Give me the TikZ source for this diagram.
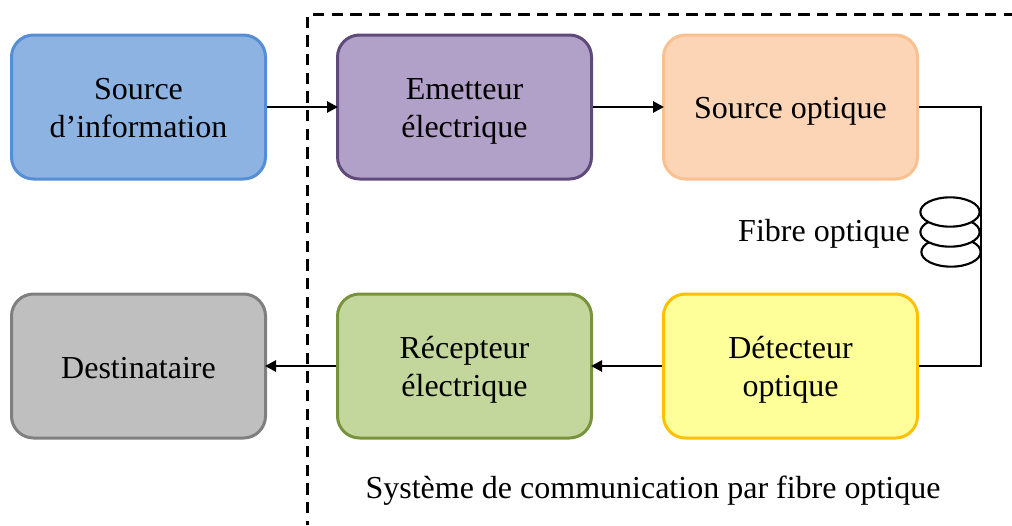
\documentclass[tikz,border=0pt]{standalone}
\usepackage{fontspec}
\setmainfont{Liberation Serif}
\usetikzlibrary{positioning}
\usetikzlibrary{arrows.meta}
\usetikzlibrary{shapes.geometric}
\tikzset{tips=proper}
\tikzset{%
    block/.style={rectangle, draw, rounded corners=16.5pt, line width=2.25pt, minimum width=190.5pt, minimum height=108pt, inner sep=0pt, align=center, font=\fontsize{24pt}{28.5pt}\selectfont, execute at begin node={\rule{0pt}{23pt}}, execute at end node={\rule[-5pt]{0pt}{5pt}}},
    tall/.style={execute at begin node={\rule{0pt}{51pt}}},
    link/.style={draw, line width=2pt, shorten >=-1.5pt, -{Triangle[length=8.25pt, width=8.25pt]}},
    fibre/.style={draw, line width=1.5pt},
    coil/.style={ellipse, draw, fill=white, line width=1.6pt, minimum width=44.5pt, minimum height=22pt, inner sep=0pt},
    frame/.style={draw, line width=2.25pt, dash pattern=on 8.5pt off 5.5pt},
    legend/.style={inner sep=0pt, font=\fontsize{24pt}{28.5pt}\selectfont}
}
\definecolor{srcfill}{HTML}{8DB3E2}
\definecolor{srcline}{HTML}{558ED5}
\definecolor{emifill}{HTML}{B1A0C7}
\definecolor{emiline}{HTML}{604A7B}
\definecolor{optfill}{HTML}{FBD5B5}
\definecolor{optline}{HTML}{FAC090}
\definecolor{detfill}{HTML}{FFFF99}
\definecolor{detline}{HTML}{FFC000}
\definecolor{recfill}{HTML}{C3D69B}
\definecolor{recline}{HTML}{77933C}
\definecolor{dstfill}{HTML}{BFBFBF}
\definecolor{dstline}{HTML}{7F7F7F}
\begin{document}
\begin{tikzpicture}[x=0.75pt, y=-0.75pt, node distance=84pt and 51.75pt]
    \useasboundingbox (0,0) rectangle (1012,525);
    % top row
    \node[block, tall, fill=srcfill, draw=srcline] (source) at (138.5,107) {Source\\d’information};
    \node[block, tall, fill=emifill, draw=emiline, right=of source] (emetteur) {Emetteur\\électrique};
    \node[block, fill=optfill, draw=optline, right=of emetteur] (optique) {Source optique};
    % bottom row
    \node[block, fill=dstfill, draw=dstline, below=of source] (dest) {Destinataire};
    \node[block, tall, fill=recfill, draw=recline, right=of dest] (recepteur) {Récepteur\\électrique};
    \node[block, tall, fill=detfill, draw=detline, right=of recepteur] (detecteur) {Détecteur\\optique};
    % fibre
    \coordinate (fibre) at (981,232);
    \node[coil] (coilc) at (951,252) {};
    \node[coil] (coilb) at (950,232) {};
    \node[coil] (coila) at (950,212) {};
    \node[legend, anchor=east] (fibrelabel) at (910,234) {Fibre optique};
    \draw[fibre] (optique.east) -| (fibre) |- (detecteur.east);
    % arrows
    \draw[link] (source) -- (emetteur);
    \draw[link] (emetteur) -- (optique);
    \draw[link] (detecteur) -- (recepteur);
    \draw[link] (recepteur) -- (dest);
    % system frame
    \coordinate (framea) at (307,525);
    \coordinate (frameb) at (307,16);
    \coordinate (framec) at (313,14);
    \coordinate (framed) at (1012,14);
    \draw[frame, dash phase=5.25pt] (framea) -- (frameb);
    \draw[frame] (framec) -- (framed);
    \node[legend] (system) at (653,491) {Système de communication par fibre optique};
\end{tikzpicture}
\end{document}
